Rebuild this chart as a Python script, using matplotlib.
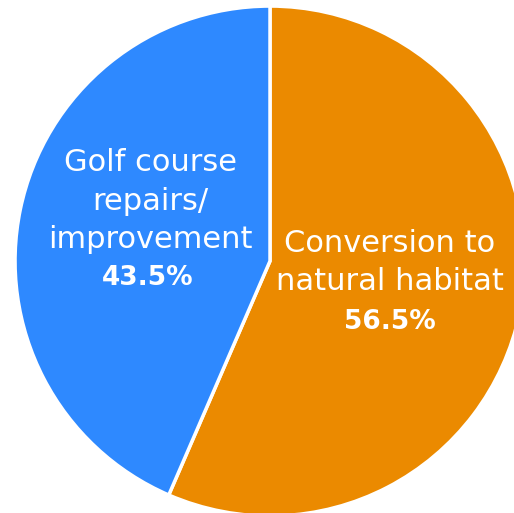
import matplotlib
matplotlib.use("Agg")
import matplotlib.pyplot as plt

# shares from the chart
labels = ["Conversion to\nnatural habitat", "Golf course\nrepairs/\nimprovement"]
shares = [56.5, 43.5]
colors = ["#EB8A00", "#2E89FF"]

fig = plt.figure(figsize=(5.14, 5.13), dpi=100)
ax = fig.add_axes([0, 0, 1, 1])
wedges, _ = ax.pie(shares, colors=colors, startangle=90, counterclock=False,
                   radius=1.0, wedgeprops={"edgecolor": "white", "linewidth": 2.5})
ax.set_aspect("equal")
ax.set_xlim(-1.059, 0.957)
ax.set_ylim(-0.988, 1.0235)
ax.axis("off")

fam = ["DejaVu Sans"]
fs = 22
# orange slice label
ax.text(0.47, -0.006, labels[0], ha="center", va="center", color="white",
        fontsize=fs, family=fam, linespacing=1.4)
ax.text(0.47, -0.239, "%.1f%%" % shares[0], ha="center", va="center",
        color="white", fontsize=19, fontweight="bold", family=fam)
# blue slice label
ax.text(-0.47, 0.235, labels[1], ha="center", va="center", color="white",
        fontsize=fs, family=fam, linespacing=1.4)
ax.text(-0.478, -0.067, "%.1f%%" % shares[1], ha="center", va="center",
        color="white", fontsize=19, fontweight="bold", family=fam)

fig.savefig("out.png", dpi=100)
